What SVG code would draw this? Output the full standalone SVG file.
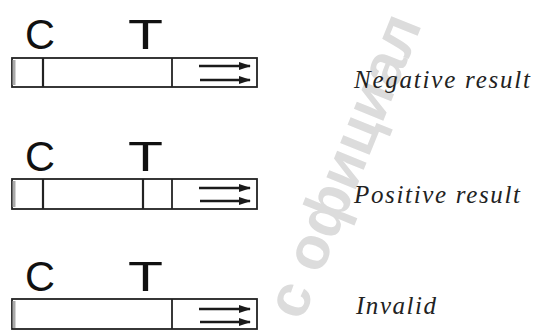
<svg xmlns="http://www.w3.org/2000/svg" width="533" height="330" viewBox="0 0 533 330">
<defs>
<marker id="ah" markerUnits="userSpaceOnUse" markerWidth="12" markerHeight="8" refX="11" refY="4" orient="auto">
<path d="M0,0 L12,4 L0,8 z" fill="#1a1a1a"/>
</marker>
<style>
.strip{fill:#fff;stroke:#222;stroke-width:1.8}
.edge{stroke:#aaa;stroke-width:3}
.band{stroke:#222;stroke-width:2.2}
.div{stroke:#222;stroke-width:1.8}
.arr{stroke:#1a1a1a;stroke-width:2.5;marker-end:url(#ah)}
.lt{font-family:"Liberation Sans",Arial,sans-serif;font-size:42px;fill:#111}
.lab{font-family:"Liberation Serif","Times New Roman",serif;font-style:italic;font-size:25px;fill:#222}
.wm{font-family:"Liberation Sans",Arial,sans-serif;font-weight:bold;font-size:60px;fill:#dcdcdc}
</style>
</defs>
<rect width="533" height="330" fill="#fff"/>
<text class="wm" transform="translate(302,322) rotate(-68)">с официал</text>
<g id="strip-negative">
<text class="lt" x="25" y="49" textLength="30" lengthAdjust="spacingAndGlyphs">C</text>
<text class="lt" x="128" y="49" textLength="35" lengthAdjust="spacingAndGlyphs">T</text>
<rect class="strip" x="12" y="58" width="245" height="29"/>
<line class="edge" x1="14" y1="60" x2="14" y2="85"/>
<line class="band" x1="43" y1="58" x2="43" y2="87"/>
<line class="div" x1="172" y1="58" x2="172" y2="87"/>
</g>
<g id="strip-positive">
<text class="lt" x="25" y="171" textLength="30" lengthAdjust="spacingAndGlyphs">C</text>
<text class="lt" x="128" y="171" textLength="35" lengthAdjust="spacingAndGlyphs">T</text>
<rect class="strip" x="12" y="179" width="245" height="30"/>
<line class="edge" x1="14" y1="181" x2="14" y2="207"/>
<line class="band" x1="43" y1="179" x2="43" y2="209"/>
<line class="band" x1="143" y1="179" x2="143" y2="209"/>
<line class="div" x1="172" y1="179" x2="172" y2="209"/>
</g>
<g id="strip-invalid">
<text class="lt" x="25" y="291" textLength="30" lengthAdjust="spacingAndGlyphs">C</text>
<text class="lt" x="128" y="291" textLength="35" lengthAdjust="spacingAndGlyphs">T</text>
<rect class="strip" x="12" y="299" width="245" height="30"/>
<line class="edge" x1="14" y1="301" x2="14" y2="328"/>
<line class="div" x1="172" y1="299" x2="172" y2="329"/>
</g>
<g id="connectors">
<line class="arr" x1="199" y1="66" x2="250" y2="66"/>
<line class="arr" x1="200" y1="80" x2="250" y2="80"/>
<line class="arr" x1="199" y1="188" x2="250" y2="188"/>
<line class="arr" x1="200" y1="201" x2="250" y2="201"/>
<line class="arr" x1="199" y1="309" x2="250" y2="309"/>
<line class="arr" x1="200" y1="322" x2="250" y2="322"/>
</g>
<g id="label-negative"><text class="lab" x="354" y="88" textLength="176" lengthAdjust="spacing">Negative result</text></g>
<g id="label-positive"><text class="lab" x="354" y="203" textLength="166" lengthAdjust="spacing">Positive result</text></g>
<g id="label-invalid"><text class="lab" x="356" y="314" textLength="80" lengthAdjust="spacing">Invalid</text></g>
</svg>
